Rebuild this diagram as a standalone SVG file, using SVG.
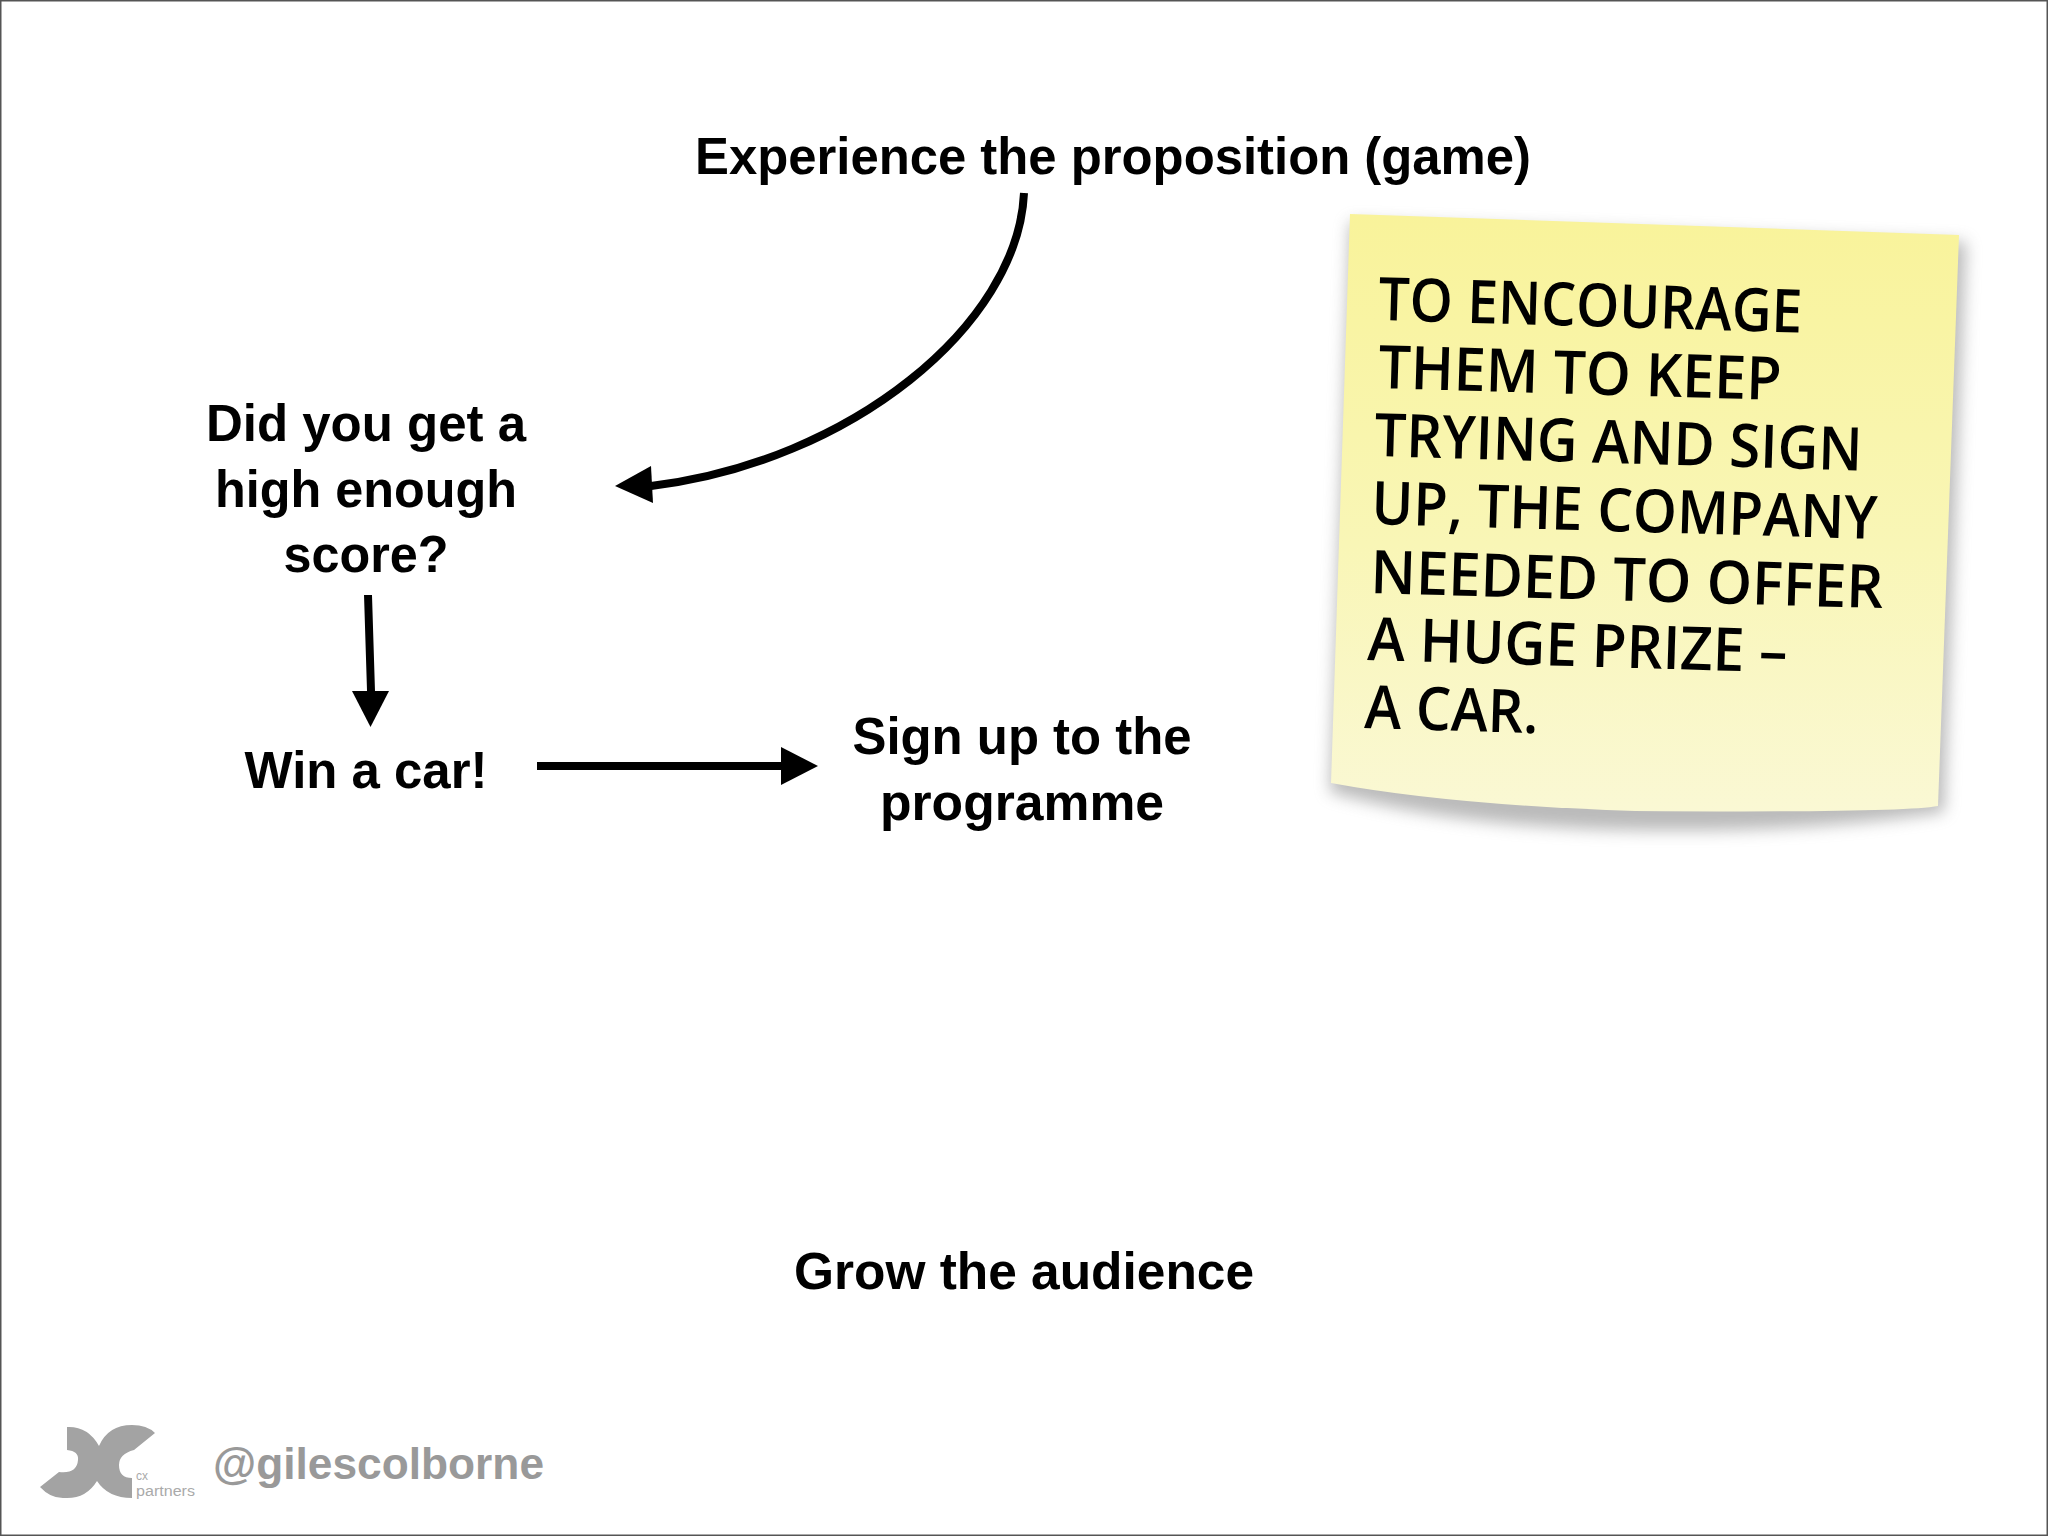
<svg xmlns="http://www.w3.org/2000/svg" width="2048" height="1536" viewBox="0 0 2048 1536">
<defs>
<style>
.label{font-family:"Liberation Sans",Arial,sans-serif;font-weight:700;font-size:52px;fill:#000;text-anchor:middle}
.note{font-family:"Open Sans","Liberation Sans",sans-serif;font-weight:600;font-size:60px;fill:#000}
.line{fill:none;stroke:#000;stroke-width:8}
.logo{font-family:"Liberation Sans",sans-serif;fill:#aaa}
</style>
<linearGradient id="noteFill" x1="0" y1="0" x2="0" y2="1">
<stop offset="0" stop-color="#f9f39a"/><stop offset="0.55" stop-color="#f9f6b6"/><stop offset="1" stop-color="#faf8d4"/>
</linearGradient>
<filter id="shadowBlur" x="-10%" y="-10%" width="120%" height="120%"><feGaussianBlur stdDeviation="8"/></filter>
<filter id="soft" x="-10%" y="-10%" width="120%" height="120%"><feGaussianBlur stdDeviation="0.7"/></filter>
</defs>
<rect width="2048" height="1536" fill="#fff"/>
<rect x="0.75" y="0.75" width="2046.5" height="1534.5" fill="none" stroke="#555" stroke-width="1.5"/>
<g id="connectors">
<path class="line" d="M1024,193C1018,325 850,462 651,486"/>
<polygon points="615,486 651,466 653,503"/>
<path class="line" d="M368,595L371,691"/>
<polygon points="370.500,727 352,691 389,691"/>
<path class="line" d="M537,766H782"/>
<polygon points="818,766 781,747 781,785"/>
</g>
<g id="node-experience"><text class="label" x="1113" y="174" textLength="836" lengthAdjust="spacingAndGlyphs">Experience the proposition (game)</text></g>
<g id="node-score"><text class="label" x="366" y="441" textLength="320" lengthAdjust="spacingAndGlyphs">Did you get a</text><text class="label" x="366" y="507" textLength="302" lengthAdjust="spacingAndGlyphs">high enough</text><text class="label" x="366" y="572" textLength="165" lengthAdjust="spacingAndGlyphs">score?</text></g>
<g id="node-win"><text class="label" x="366" y="788" textLength="243" lengthAdjust="spacingAndGlyphs">Win a car!</text></g>
<g id="node-signup"><text class="label" x="1022" y="754" textLength="339" lengthAdjust="spacingAndGlyphs">Sign up to the</text><text class="label" x="1022" y="820" textLength="284" lengthAdjust="spacingAndGlyphs">programme</text></g>
<g id="node-grow"><text class="label" x="1024" y="1289" textLength="460" lengthAdjust="spacingAndGlyphs">Grow the audience</text></g>
<g id="sticky-note">
<path d="M1350,222L1966,242L1944,812Q1800,834 1620,830Q1450,826 1330,792Z" fill="#777" opacity="0.5" filter="url(#shadowBlur)"/>
<path d="M1350,214L1959,235L1938,806Q1900,813 1635,811Q1450,805 1331,783Z" fill="url(#noteFill)"/>
<text class="note" transform="translate(1378,320) rotate(1.7)" textLength="424" lengthAdjust="spacingAndGlyphs">TO ENCOURAGE</text>
<text class="note" transform="translate(1378,388) rotate(1.7)" textLength="403" lengthAdjust="spacingAndGlyphs">THEM TO KEEP</text>
<text class="note" transform="translate(1374,456) rotate(1.7)" textLength="488" lengthAdjust="spacingAndGlyphs">TRYING AND SIGN</text>
<text class="note" transform="translate(1371,524) rotate(1.7)" textLength="506" lengthAdjust="spacingAndGlyphs">UP, THE COMPANY</text>
<text class="note" transform="translate(1370,593) rotate(1.7)" textLength="513" lengthAdjust="spacingAndGlyphs">NEEDED TO OFFER</text>
<text class="note" transform="translate(1367,660) rotate(1.7)" textLength="420" lengthAdjust="spacingAndGlyphs">A HUGE PRIZE –</text>
<text class="note" transform="translate(1364,728) rotate(1.7)" textLength="174" lengthAdjust="spacingAndGlyphs">A CAR.</text>
</g>
<g id="footer">
<path filter="url(#soft)" fill="#a3a3a3" d="M67,1427Q88,1426 99,1446Q108,1425 132,1425Q147,1425 155,1433L134,1450Q119,1454 119,1465Q119,1478 132,1478L132,1498Q108,1498 97,1481Q86,1499 65,1498Q51,1499 40,1487L59,1472Q77,1474 78,1460Q79,1451 67,1450Z"/>
<text class="logo" x="136" y="1480" font-size="13" textLength="12" lengthAdjust="spacingAndGlyphs">cx</text>
<text class="logo" x="136" y="1496" font-size="14" textLength="59" lengthAdjust="spacingAndGlyphs">partners</text>
<text x="213" y="1479" font-family="Liberation Sans, Arial, sans-serif" font-weight="700" font-size="44" fill="#999" textLength="331" lengthAdjust="spacingAndGlyphs">@gilescolborne</text>
</g>
</svg>
